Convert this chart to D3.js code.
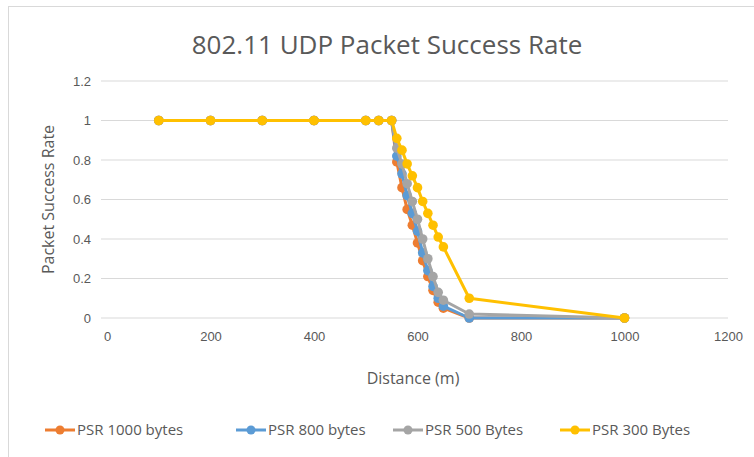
<!DOCTYPE html>
<html><head><meta charset="utf-8">
<script src="https://cdn.jsdelivr.net/npm/d3@7"></script>
<style>body{margin:0;background:#fff;} svg{display:block;font-family:"Open Sans",sans-serif;}</style>
</head><body>
<svg id="c" width="754" height="457"></svg>
<script>
const distances = [100,200,300,400,500,525,550,560,570,580,590,600,610,620,630,640,650,700,1000];
const psr1000 = [1,1,1,1,1,1,1,0.79,0.66,0.55,0.47,0.38,0.29,0.21,0.14,0.08,0.05,0,0];
const psr800  = [1,1,1,1,1,1,1,0.82,0.73,0.62,0.53,0.44,0.33,0.24,0.16,0.10,0.06,0,0];
const psr500  = [1,1,1,1,1,1,1,0.86,0.78,0.68,0.59,0.50,0.40,0.30,0.21,0.13,0.09,0.02,0];
const psr300  = [1,1,1,1,1,1,1,0.91,0.85,0.78,0.72,0.66,0.59,0.53,0.47,0.41,0.36,0.10,0];
const seriesNames = ["PSR 1000 bytes","PSR 800 bytes","PSR 500 Bytes","PSR 300 Bytes"];
const seriesColors = ["#ED7D31","#5B9BD5","#A5A5A5","#FFC000"];
const xTicks = [0,200,400,600,800,1000,1200];
const yTicks = [0,0.2,0.4,0.6,0.8,1,1.2];

const series = [psr1000,psr800,psr500,psr300].map((v,i)=>({name:seriesNames[i],color:seriesColors[i],pts:distances.map((d,j)=>[d,v[j]])}));

const svg = d3.select("#c");
svg.append("rect").attr("x",8.5).attr("y",6.5).attr("width",800).attr("height",500).attr("fill","#fff").attr("stroke","#d9d9d9");

const x = d3.scaleLinear().domain([0,1200]).range([107,728]);
const y = d3.scaleLinear().domain([0,1.2]).range([318,81]);

const grid = svg.append("g");
grid.selectAll("line").data(yTicks).join("line")
  .attr("x1",x(0)-6).attr("x2",x(1200)).attr("y1",d=>y(d)).attr("y2",d=>y(d))
  .attr("stroke","#d9d9d9").attr("stroke-width",1);

const xa = svg.append("g").attr("transform",`translate(0,${y(0)})`)
  .call(d3.axisBottom(x).tickValues(xTicks).tickSize(0).tickPadding(14).tickFormat(d3.format("d")));
xa.select(".domain").remove();
xa.selectAll("text").attr("fill","#595959").style("font-size","13px");

const ya = svg.append("g").attr("transform",`translate(${x(0)-8},0)`)
  .call(d3.axisLeft(y).tickValues(yTicks).tickSize(0).tickPadding(8).tickFormat(d=>d3.format("")(d)));
ya.select(".domain").remove();
ya.selectAll("text").attr("fill","#595959").style("font-size","13px");

svg.append("text").attr("x",387).attr("y",54).attr("text-anchor","middle")
  .attr("fill","#595959").style("font-size","26px").text("802.11 UDP Packet Success Rate");
svg.append("text").attr("x",413).attr("y",384).attr("text-anchor","middle")
  .attr("fill","#595959").style("font-size","16px").text("Distance (m)");
svg.append("text").attr("transform",`translate(54,${y(0.6)}) rotate(-90)`).attr("text-anchor","middle")
  .attr("fill","#595959").style("font-size","16px").text("Packet Success Rate");

const line = d3.line().x(d=>x(d[0])).y(d=>y(d[1]));
series.forEach(s=>{
  const g = svg.append("g");
  g.append("path").attr("d",line(s.pts)).attr("fill","none").attr("stroke",s.color).attr("stroke-width",3).attr("stroke-linejoin","round");
  g.selectAll("circle").data(s.pts).join("circle").attr("cx",d=>x(d[0])).attr("cy",d=>y(d[1])).attr("r",4.8).attr("fill",s.color);
});

const legX = [45,236,393,560];
const lg = svg.append("g");
series.forEach((s,i)=>{
  const g = lg.append("g").attr("transform",`translate(${legX[i]},430)`);
  g.append("line").attr("x1",0).attr("x2",30).attr("stroke",s.color).attr("stroke-width",3);
  g.append("circle").attr("cx",15).attr("r",4.5).attr("fill",s.color);
  g.append("text").attr("x",32).attr("y",5).attr("fill","#595959").style("font-size","15px").text(s.name);
});
</script>
</body></html>
